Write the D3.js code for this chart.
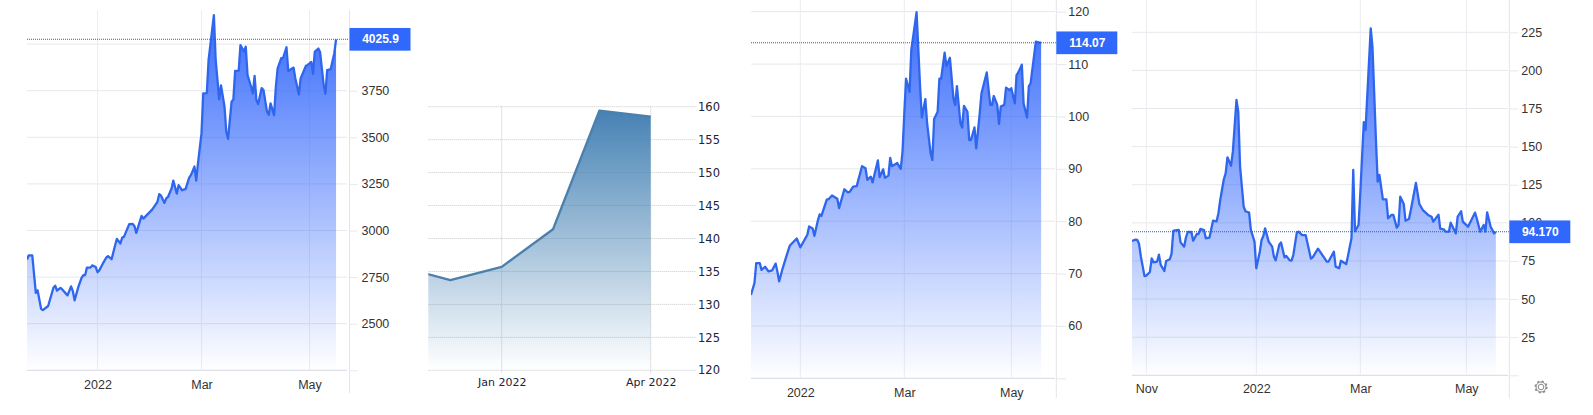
<!DOCTYPE html>
<html>
<head>
<meta charset="utf-8">
<script src="https://cdn.jsdelivr.net/npm/d3@7"></script>
<style>
  html, body { margin: 0; padding: 0; background: #fff; }
  svg { display: block; }
</style>
</head>
<body>
<div id="chart"></div>
<script>
// x values are days counted from 1 Jan 2022

// first chart
var chart1Days = [-40,-39,-37,-35,-34,-32,-31,-28,-25,-24,-23,-21,-20,-17,-15,-14,-13,-11,-9,-8,-7,-6,-4,-3,-1,0,1,3,5,6,8,10,11,13,14,15,18,20,21,22,25,26,31,34,35,36,38,39,40,42,43,45,46,48,50,52,53,55,56,57,59,60,62,63,66,67,69,70,72,73,74,76,77,78,80,81,83,84,85,87,88,89,90,91,93,94,96,97,98,100,101,102,104,105,107,108,111,112,114,115,118,119,121,122,123,125,126,128,129,130,132,134,135];
var chart1Values = [2844,2867,2867,2665,2679,2580,2573,2595,2693,2704,2677,2692,2684,2652,2700,2675,2625,2693,2747,2760,2761,2801,2801,2813,2804,2776,2786,2822,2855,2862,2846,2921,2955,2930,2962,2966,3034,3035,3023,2987,3078,3064,3112,3154,3195,3188,3148,3172,3180,3225,3268,3198,3243,3216,3223,3284,3297,3343,3268,3360,3521,3736,3737,3915,4155,3915,3703,3779,3664,3530,3492,3691,3703,3856,3857,3995,3960,3986,3834,3771,3736,3829,3700,3678,3764,3754,3637,3621,3682,3619,3771,3870,3924,3924,3983,3856,3874,3816,3730,3816,3884,3888,3904,3840,3960,3976,3956,3780,3734,3861,3866,3951,4025.9];
var chart1Ticks = [2250,2500,2750,3000,3250,3500,3750,4000];
var chart1Last = 4025.9;

// second chart, monthly
var chart2Days = [-61,-31,0,31,59,90];
var chart2Values = [135.7,133.7,135.7,141.4,159.4,158.5];
var chart2Ticks = [120,125,130,135,140,145,150,155,160];

// third chart
var chart3Days = [-28,-26,-25,-23,-22,-20,-18,-16,-14,-13,-12,-10,-8,-6,-2,0,4,5,7,8,10,11,12,15,16,18,21,22,25,27,28,30,32,35,37,38,40,41,44,45,47,48,50,51,52,55,57,58,59,60,62,63,66,68,69,71,72,74,75,76,78,79,80,82,83,85,87,88,89,91,92,93,95,96,97,99,100,102,103,106,108,109,110,112,113,114,116,117,119,120,122,123,124,126,127,129,130,131,134,136,137];
var chart3Values = [65.9,68.2,72,72,70.7,71.3,70.4,70.6,71.9,70.4,68.5,71,73.2,75.3,76.7,75,77.4,79,78.6,77.2,80.2,81.3,81,84.1,84.2,84.9,84.3,82.5,86.1,85.5,85.6,86.6,86.7,90.5,90.1,87.9,88.5,87.4,91.6,88.4,89.9,88.3,88.7,92.1,90.5,91.1,90,93.3,100.6,107.2,104.7,112.7,119.9,105.7,99.8,103.3,98.7,93,91.7,99.5,100.9,107.2,107.2,112.2,109.6,111.2,103.5,102.2,105.8,98.7,97.9,102,100.9,95.5,95.5,97.9,93.9,100.6,104.4,108.4,102.2,102.2,103.9,102.2,98.6,101.9,102.2,105.5,105,105.4,102.5,107.9,108.4,109.9,102.5,99.8,105.8,106.3,114.3,114.1,114.07];
var chart3Ticks = [50,60,70,80,90,100,110,120];
var chart3Last = 114.07;

// fourth chart
var chart4Days = [-69,-67,-66,-65,-64,-62,-61,-59,-58,-57,-55,-54,-53,-51,-50,-48,-47,-46,-45,-43,-42,-40,-39,-38,-36,-35,-33,-32,-31,-29,-28,-26,-24,-22,-21,-20,-18,-17,-16,-14,-13,-11,-10,-9,-7,-6,-4,-3,-1,0,2,3,4,5,7,9,10,11,13,14,16,17,19,20,21,23,24,26,28,31,32,35,40,41,44,45,47,48,51,52,54,55,56,58,59,61,62,65,66,68,69,70,72,74,75,77,78,80,81,82,84,85,87,88,91,93,95,98,100,101,104,105,107,108,110,111,114,115,117,118,121,125,126,128,130,131,132,134,136,137];
var chart4Values = [88.1,89,88.8,86.1,77.8,65.1,65.4,67.8,76.7,74.1,74.6,79.1,72.4,68.4,75,76.1,79.6,94.7,95.1,95.3,87.2,84.4,90.5,94,94,88.3,92.7,92.7,96,95.3,89.9,90.3,101.4,101,106.3,115,128.6,132.5,143,137.5,146.7,180.6,173,136.9,110.6,107.6,106.7,95.3,87.7,70.2,81.1,88.8,91.4,96.4,87.7,84.4,77.8,75.4,85.5,87.2,77.4,78.3,75.4,75.2,78.9,93.8,94.2,92,92,76.5,77.4,83.1,74.6,74.6,81.1,71.3,70.2,75.2,73,78.3,89.9,134.7,94.5,98.6,119.4,166,160.9,227.6,215.6,154.4,127,131.4,115.4,115.4,103,105.2,105.2,96.9,98.6,117.2,112.4,101.4,102.5,108,126.2,112.4,108.4,105.2,104,100.8,105.4,96.2,95.8,94.2,94.2,100.1,93.1,104,107.6,100.8,97.5,106.7,103,94.2,98.6,94.2,106.9,97.5,93.1,94.17];
var chart4Ticks = [0,25,50,75,100,125,150,175,200,225];
var chart4Last = 94.17;

var width = 1593, height = 415;
var svg = d3.select("#chart").append("svg").attr("width", width).attr("height", height);
var defs = svg.append("defs");

function drawPanel(p) {
  var g = svg.append("g");

  var x = d3.scaleLinear().domain(p.xDomain).range(p.xRange);
  var y = d3.scaleLinear().domain(p.yDomain).range(p.yRange);
  var points = p.days.map(function(d, i) { return [d, p.values[i]]; });
  var bottom = p.yRange[0];

  // gridlines
  g.selectAll(".hgrid").data(p.ticks).enter().append("line")
    .attr("x1", p.left).attr("x2", p.gridRight)
    .attr("y1", function(d) { return y(d); }).attr("y2", function(d) { return y(d); })
    .attr("stroke", function(d, i) { return i == 0 ? p.baseColor : p.gridColor; })
    .attr("stroke-dasharray", p.dash);

  g.selectAll(".vgrid").data(p.xTicks).enter().append("line")
    .attr("x1", function(d) { return x(d); }).attr("x2", function(d) { return x(d); })
    .attr("y1", p.top).attr("y2", bottom + p.vExtra)
    .attr("stroke", p.vGridColor)
    .attr("stroke-dasharray", p.dash);

  // area and line
  var grad = defs.append("linearGradient").attr("id", p.id + "-fill")
    .attr("x1", 0).attr("y1", 0).attr("x2", 0).attr("y2", 1);
  grad.append("stop").attr("offset", "0%").attr("stop-color", p.color).attr("stop-opacity", p.fillOpacity);
  grad.append("stop").attr("offset", "100%").attr("stop-color", p.color).attr("stop-opacity", 0);

  defs.append("clipPath").attr("id", p.id + "-clip").append("rect")
    .attr("x", p.left).attr("y", 0).attr("width", p.gridRight - p.left).attr("height", height);

  var plot = g.append("g").attr("clip-path", "url(#" + p.id + "-clip)");
  plot.append("path").datum(points)
    .attr("fill", "url(#" + p.id + "-fill)")
    .attr("d", d3.area().x(function(d) { return x(d[0]); }).y0(bottom).y1(function(d) { return y(d[1]); }));
  plot.append("path").datum(points)
    .attr("fill", "none").attr("stroke", p.lineColor).attr("stroke-width", 2.3)
    .attr("stroke-linejoin", "round")
    .attr("d", d3.line().x(function(d) { return x(d[0]); }).y(function(d) { return y(d[1]); }));

  // dotted line at last value
  if (p.last !== undefined) {
    g.append("line")
      .attr("x1", p.left).attr("x2", p.axisX)
      .attr("y1", y(p.last)).attr("y2", y(p.last))
      .attr("stroke", "#2f5fa8").attr("stroke-dasharray", "1,1");
  }

  // right axis
  if (p.axisLine) {
    g.append("line").attr("x1", p.axisX).attr("x2", p.axisX)
      .attr("y1", p.top).attr("y2", p.axisEnd).attr("stroke", "#e3e5e9");
  }
  var yAxis = d3.axisRight(y).tickValues(p.ticks).tickSize(p.tickLen).tickPadding(p.tickPad)
    .tickFormat(function(d, i) {
      // baseline tick has no label, neither has the one hidden behind the value box
      if (p.blankFirst && i == 0) return "";
      if (p.hiddenTick === d) return "";
      return d;
    });
  var yg = g.append("g").attr("transform", "translate(" + p.axisX + ",0)").call(yAxis);
  yg.select(".domain").remove();
  yg.selectAll("line").attr("stroke", p.gridColor).attr("stroke-dasharray", p.dash);
  yg.selectAll("text").attr("fill", p.textColor).style("font", p.font);

  // bottom labels
  var xAxis = d3.axisBottom(x).tickValues(p.xTicks).tickSize(0).tickPadding(p.xPad)
    .tickFormat(function(d, i) { return p.xLabels[i]; });
  var xg = g.append("g").attr("transform", "translate(0," + bottom + ")").call(xAxis);
  xg.select(".domain").remove();
  xg.selectAll("text").attr("fill", p.textColor).style("font", p.xFont || p.font);

  // value box
  if (p.last !== undefined) {
    g.append("rect")
      .attr("x", p.axisX).attr("y", y(p.last) - 11.3)
      .attr("width", 61).attr("height", 22.7).attr("fill", "#2f68fb");
    g.append("text")
      .attr("x", p.axisX + 31).attr("y", y(p.last) + 1)
      .attr("text-anchor", "middle").attr("dominant-baseline", "middle")
      .attr("fill", "#fff").style("font", "bold 12px 'Liberation Sans', Arial, sans-serif")
      .text(p.lastLabel);
  }
}

var blueStyle = {
  color: "#2f64fb", lineColor: "#2f66ee", fillOpacity: 0.95,
  gridColor: "#e7e8eb", vGridColor: "#eaedf2", baseColor: "#d5d8e4",
  dash: null, vExtra: 0, axisLine: true, tickLen: 8, tickPad: 4, xPad: 10, blankFirst: true,
  textColor: "#333", font: "12.5px 'Liberation Sans', Arial, sans-serif"
};

drawPanel(Object.assign({}, blueStyle, {
  id: "c1", days: chart1Days, values: chart1Values, ticks: chart1Ticks, last: chart1Last, lastLabel: "4025.9",
  hiddenTick: 4000,
  xDomain: [0, 59, 120], xRange: [97.5, 201.5, 309.5], xTicks: [0, 59, 120], xLabels: ["2022", "Mar", "May"],
  yDomain: [2250, 3750], yRange: [370.3, 90.7],
  left: 27, gridRight: 347, axisX: 349.5, top: 10, axisEnd: 393
}));

drawPanel({
  id: "c2", days: chart2Days, values: chart2Values, ticks: chart2Ticks,
  xDomain: [0, 90], xRange: [501.7, 650.7], xTicks: [0, 90], xLabels: ["Jan 2022", "Apr 2022"],
  yDomain: [120, 160], yRange: [370.3, 106.7],
  left: 428.3, gridRight: 696, axisX: 696, top: 106.7, axisEnd: 373,
  color: "#4682b4", lineColor: "#4b7fac", fillOpacity: 1,
  gridColor: "#c8c8c8", vGridColor: "#c8c8c8", baseColor: "#c8c8c8",
  dash: "1,1", vExtra: 3, axisLine: false, tickLen: 0, tickPad: 2, xPad: 8, blankFirst: false,
  textColor: "#222238", font: "11.5px 'DejaVu Sans', sans-serif", xFont: "11px 'DejaVu Sans', sans-serif"
});

drawPanel(Object.assign({}, blueStyle, {
  id: "c3", days: chart3Days, values: chart3Values, ticks: chart3Ticks, last: chart3Last, lastLabel: "114.07",
  xDomain: [0, 59, 120], xRange: [800.3, 904.3, 1011.3], xTicks: [0, 59, 120], xLabels: ["2022", "Mar", "May"],
  yDomain: [50, 120], yRange: [378.3, 11.7],
  left: 751, gridRight: 1055, axisX: 1056.3, top: 0, axisEnd: 398, tickLen: 10, tickPad: 2
}));

drawPanel(Object.assign({}, blueStyle, {
  id: "c4", days: chart4Days, values: chart4Values, ticks: chart4Ticks, last: chart4Last, lastLabel: "94.170",
  xDomain: [-61, 0, 59, 120], xRange: [1146.3, 1256.3, 1360.3, 1466.3], xTicks: [-61, 0, 59, 120], xLabels: ["Nov", "2022", "Mar", "May"],
  yDomain: [0, 225], yRange: [375.3, 32.3],
  left: 1132, gridRight: 1508, axisX: 1509.3, top: 0, axisEnd: 398, tickLen: 9, tickPad: 3, xPad: 9
}));

// settings icon
var gear = svg.append("g").attr("transform", "translate(1541,387)")
  .attr("fill", "none").attr("stroke", "#8a8a8a");
gear.append("circle").attr("r", 2.8).attr("stroke-width", 1);
gear.append("circle").attr("r", 5).attr("stroke-width", 1);
gear.append("circle").attr("r", 5.8).attr("stroke-width", 1.6).attr("stroke-dasharray", "2.1,2.45");
</script>
</body>
</html>
